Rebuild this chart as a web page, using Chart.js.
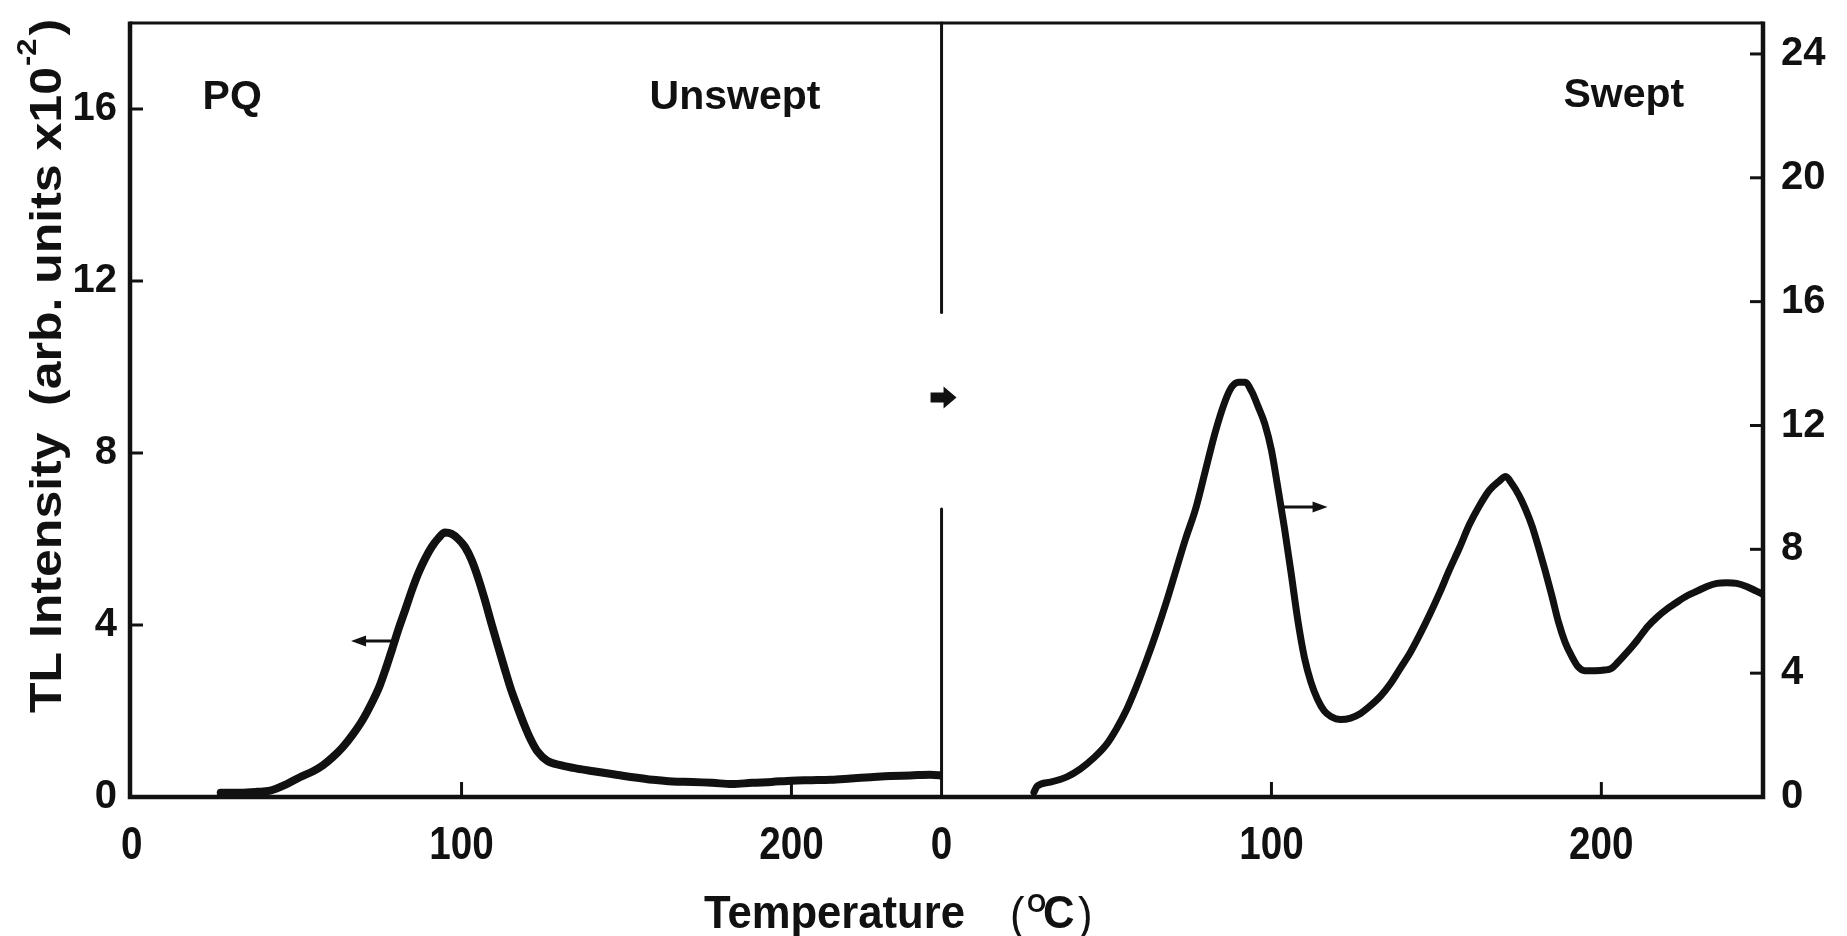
<!DOCTYPE html>
<html>
<head>
<meta charset="utf-8">
<title>PQ quartz glow curves</title>
<script src="https://cdn.jsdelivr.net/npm/chart.js@4/dist/chart.umd.min.js"></script>
<style>
  html, body { margin: 0; padding: 0; background: #fff; }
  #wrap { width: 1847px; height: 936px; position: relative; }
</style>
</head>
<body>
<div id="wrap"><canvas id="glow"></canvas></div>
<script>
// Thermoluminescence glow curves of PQ quartz, unswept and swept samples.
// Temperature in °C, TL intensity in arb. units x10^-2.
const unsweptTemp = [27, 33, 38, 42, 47, 51, 55, 58, 61, 64, 67, 70, 73, 75, 77, 79, 81, 83, 85, 87,
  89, 91, 93, 95, 97, 99, 101, 103, 105, 107, 109, 111, 113, 115, 117, 119, 121, 123, 126, 130,
  135, 140, 146, 152, 158, 164, 170, 176, 182, 188, 194, 200, 206, 212, 218, 224, 230, 236, 242, 246];
const unsweptTL = [0.10, 0.10, 0.12, 0.15, 0.30, 0.46, 0.60, 0.74, 0.93, 1.16, 1.45, 1.79, 2.22, 2.55, 2.98, 3.45, 3.93, 4.37, 4.82, 5.22,
  5.55, 5.82, 6.02, 6.15, 6.12, 6.00, 5.82, 5.52, 5.10, 4.60, 4.05, 3.52, 3.00, 2.50, 2.08, 1.68, 1.33, 1.06, 0.84, 0.74,
  0.66, 0.60, 0.53, 0.46, 0.40, 0.36, 0.35, 0.33, 0.30, 0.33, 0.35, 0.38, 0.39, 0.40, 0.43, 0.46, 0.49, 0.50, 0.52, 0.50];

const sweptTemp = [28, 29, 33, 38, 42, 46, 50, 53, 56, 59, 62, 65, 68, 71, 74, 77, 80, 83, 86, 88,
  90, 92, 94, 96, 98, 100, 102, 104, 106, 108, 110, 112, 114, 116, 118, 121, 124, 127, 130, 133,
  136, 139, 142, 145, 148, 151, 154, 157, 160, 163, 166, 169, 171, 173, 175, 177, 179, 181, 183, 185,
  187, 189, 191, 193, 195, 198, 201, 203, 205, 207, 209, 211, 214, 217, 220, 223, 226, 229, 232, 235,
  238, 241, 244, 247, 249];
const sweptTL = [0.15, 0.35, 0.48, 0.65, 0.90, 1.25, 1.70, 2.20, 2.80, 3.55, 4.38, 5.28, 6.25, 7.30, 8.35, 9.30, 10.55, 11.80, 12.80, 13.25,
  13.40, 13.40, 13.10, 12.60, 12.05, 11.20, 9.95, 8.65, 7.20, 5.70, 4.50, 3.70, 3.15, 2.78, 2.60, 2.50, 2.55, 2.70, 2.95, 3.25,
  3.65, 4.15, 4.65, 5.25, 5.90, 6.60, 7.35, 8.05, 8.80, 9.40, 9.90, 10.20, 10.35, 10.10, 9.75, 9.30, 8.75, 8.05, 7.30, 6.50,
  5.65, 5.00, 4.55, 4.20, 4.08, 4.08, 4.10, 4.15, 4.35, 4.58, 4.82, 5.08, 5.50, 5.82, 6.08, 6.30, 6.50, 6.65, 6.80, 6.90,
  6.92, 6.90, 6.80, 6.65, 6.55];

const tempTicks = [0, 100, 200];
const leftTicks = [0, 4, 8, 12, 16];
const rightTicks = [0, 4, 8, 12, 16, 20, 24];

const INK = '#111';
const SANS = "'Liberation Sans', Arial, Helvetica, sans-serif";

// Text drawn inside the plot: [text, panel, temperature, intensity at baseline]
const panelLabels = [
  ['PQ', 'L', 21.5, 16.0],
  ['Unswept', 'L', 157, 16.0],
  ['Swept', 'R', 188.5, 22.3]
];
// Arrows pointing each curve to its axis: [panel, from T, to T, intensity]
const axisPointers = [
  ['L', 80.3, 66.5, 3.63],
  ['R', 103.5, 117, 9.37]
];
// Break in the panel divider (right-axis units) and the marker inside it
const dividerGap = [9.3, 15.65];
const dividerMarkAt = 12.9;

const toPoints = (xs, ys) => xs.map((x, i) => ({ x, y: ys[i] }));

const paperPlugin = {
  id: 'paper',
  beforeDraw(chart) {
    const { ctx, width, height } = chart;
    ctx.save();
    ctx.fillStyle = '#fff';
    ctx.fillRect(0, 0, width, height);
    ctx.restore();
  }
};

// condensed lettering: text squeezed horizontally by sx
function squeezed(ctx, txt, x, baseline, font, sx, align) {
  ctx.save();
  ctx.font = font;
  ctx.textAlign = align || 'left';
  ctx.textBaseline = 'alphabetic';
  ctx.translate(x, baseline);
  ctx.scale(sx, 1);
  ctx.fillText(txt, 0, 0);
  ctx.restore();
}

const decorPlugin = {
  id: 'decor',
  afterDatasetsDraw(chart) {
    const { ctx, chartArea: a, scales } = chart;
    const { xL, xR, yL, yR } = scales;
    const panel = { L: [xL, yL], R: [xR, yR] };
    const seg = (x0, y0, x1, y1) => { ctx.beginPath(); ctx.moveTo(x0, y0); ctx.lineTo(x1, y1); ctx.stroke(); };

    ctx.save();
    ctx.strokeStyle = INK;
    ctx.fillStyle = INK;
    ctx.lineCap = 'butt';

    // frame
    ctx.lineWidth = 3;
    seg(a.left, a.top, a.right, a.top);
    ctx.lineWidth = 4.5;
    ctx.beginPath();
    ctx.moveTo(a.left, a.top - 1.5);
    ctx.lineTo(a.left, a.bottom);
    ctx.lineTo(a.right, a.bottom);
    ctx.lineTo(a.right, a.top - 1.5);
    ctx.stroke();

    // inward tick marks
    ctx.lineWidth = 3;
    [xL, xR].forEach(s => s.ticks.forEach(t => {
      if (t.value === 0) return;
      const px = s.getPixelForValue(t.value);
      seg(px, a.bottom, px, a.bottom - 15);
    }));
    yL.ticks.forEach(t => {
      if (t.value === 0) return;
      const py = yL.getPixelForValue(t.value);
      seg(a.left, py, a.left + 13, py);
    });
    yR.ticks.forEach(t => {
      if (t.value === 0) return;
      const py = yR.getPixelForValue(t.value);
      seg(a.right - 13, py, a.right, py);
    });

    // temperature tick labels, condensed
    [xL, xR].forEach(s => s.ticks.forEach(t => {
      squeezed(ctx, String(t.value), s.getPixelForValue(t.value), a.bottom + 62, `bold 46px ${SANS}`, 0.84, 'center');
    }));

    // panel divider with a gap holding a block arrow
    const xd = xR.left;
    ctx.lineWidth = 3;
    ctx.lineCap = 'round';
    seg(xd, a.top, xd, yR.getPixelForValue(dividerGap[1]));
    seg(xd, yR.getPixelForValue(dividerGap[0]), xd, a.bottom);
    const ym = yR.getPixelForValue(dividerMarkAt);
    ctx.beginPath();
    ctx.moveTo(xd - 11, ym - 5);
    ctx.lineTo(xd + 2, ym - 5);
    ctx.lineTo(xd + 2, ym - 11);
    ctx.lineTo(xd + 15, ym);
    ctx.lineTo(xd + 2, ym + 11);
    ctx.lineTo(xd + 2, ym + 5);
    ctx.lineTo(xd - 11, ym + 5);
    ctx.closePath();
    ctx.fill();

    // pointers from curves to their axes
    ctx.lineCap = 'butt';
    axisPointers.forEach(([p, from, to, level]) => {
      const [xs, ys] = panel[p];
      const x0 = xs.getPixelForValue(from), x1 = xs.getPixelForValue(to), y = ys.getPixelForValue(level);
      const dir = Math.sign(x1 - x0);
      ctx.lineWidth = 3;
      seg(x0, y, x1 - dir * 8, y);
      ctx.beginPath();
      ctx.moveTo(x1, y);
      ctx.lineTo(x1 - dir * 15, y - 5.5);
      ctx.lineTo(x1 - dir * 15, y + 5.5);
      ctx.closePath();
      ctx.fill();
    });

    // panel captions
    ctx.textAlign = 'left';
    ctx.textBaseline = 'alphabetic';
    ctx.font = `bold 41px ${SANS}`;
    panelLabels.forEach(([txt, p, t, v]) => {
      const [xs, ys] = panel[p];
      ctx.fillText(txt, xs.getPixelForValue(t), ys.getPixelForValue(v));
    });

    // x axis title: Temperature (°C), condensed
    const tFont = `bold 46px ${SANS}`;
    ctx.font = tFont;
    const sx = 261 / ctx.measureText('Temperature').width;
    const xb = 928;
    squeezed(ctx, 'Temperature', 704, xb, tFont, sx);
    squeezed(ctx, '(', 1010, xb + 2, `46px ${SANS}`, sx);
    squeezed(ctx, 'O', 1027, xb - 16, `bold 26px ${SANS}`, sx);
    squeezed(ctx, 'C', 1043, xb, tFont, sx);
    squeezed(ctx, ')', 1078, xb + 2, `46px ${SANS}`, sx);

    // y axis title: TL Intensity (arb. units x10^-2)
    ctx.save();
    ctx.translate(61, 713);
    ctx.rotate(-Math.PI / 2);
    ctx.scale(1, 0.88);
    ctx.textAlign = 'left';
    ctx.font = `bold 50px ${SANS}`;
    ctx.fillText('TL Intensity', 0, 0);
    let s = 307;
    ctx.fillText('(arb. units x10', s, 0); s += ctx.measureText('(arb. units x10').width;
    ctx.font = `bold 31px ${SANS}`;
    ctx.fillText('-2', s + 1, -28); s += ctx.measureText('-2').width + 4;
    ctx.font = `bold 50px ${SANS}`;
    ctx.fillText(')', s, 0);
    ctx.restore();

    ctx.restore();
  }
};

const yTickFont = { family: SANS, size: 40, weight: 'bold' };

function tempAxis(min, max, weight) {
  return {
    type: 'linear', position: 'bottom', stack: 'temperature', stackWeight: weight,
    min, max,
    grid: { display: false, drawTicks: false },
    border: { display: false },
    afterBuildTicks: s => { s.ticks = tempTicks.map(v => ({ value: v })); },
    afterFit: s => { s.height = 139; s.paddingLeft = 0; s.paddingRight = 0; },
    ticks: { display: false }
  };
}

function intensityAxis(position, max, values, width, pad) {
  return {
    position, min: 0, max,
    grid: { display: false, drawTicks: false },
    border: { display: false },
    afterBuildTicks: s => { s.ticks = values.map(v => ({ value: v })); },
    afterFit: s => { s.width = width; s.paddingTop = 0; s.paddingBottom = 0; },
    ticks: { font: yTickFont, color: INK, padding: pad }
  };
}

new Chart(document.getElementById('glow'), {
  type: 'line',
  data: {
    datasets: [
      {
        label: 'Unswept',
        data: toPoints(unsweptTemp, unsweptTL),
        xAxisID: 'xL', yAxisID: 'yL',
        borderColor: INK, borderWidth: 8, pointRadius: 0,
        cubicInterpolationMode: 'monotone', borderCapStyle: 'round', borderJoinStyle: 'round', fill: false
      },
      {
        label: 'Swept',
        data: toPoints(sweptTemp, sweptTL),
        xAxisID: 'xR', yAxisID: 'yR',
        borderColor: INK, borderWidth: 7, pointRadius: 0,
        cubicInterpolationMode: 'monotone', borderCapStyle: 'round', borderJoinStyle: 'round', fill: false
      }
    ]
  },
  options: {
    responsive: true,
    maintainAspectRatio: false,
    animation: false,
    events: [],
    layout: { padding: { top: 23, left: 0, right: 0, bottom: 0 } },
    plugins: { legend: { display: false }, tooltip: { enabled: false } },
    scales: {
      xL: tempAxis(-0.5, 245.5, 246),
      xR: tempAxis(0, 249, 249),
      yL: intensityAxis('left', 18, leftTicks, 130, 13),
      yR: intensityAxis('right', 25, rightTicks, 84, 18)
    }
  },
  plugins: [paperPlugin, decorPlugin]
});
</script>
</body>
</html>
